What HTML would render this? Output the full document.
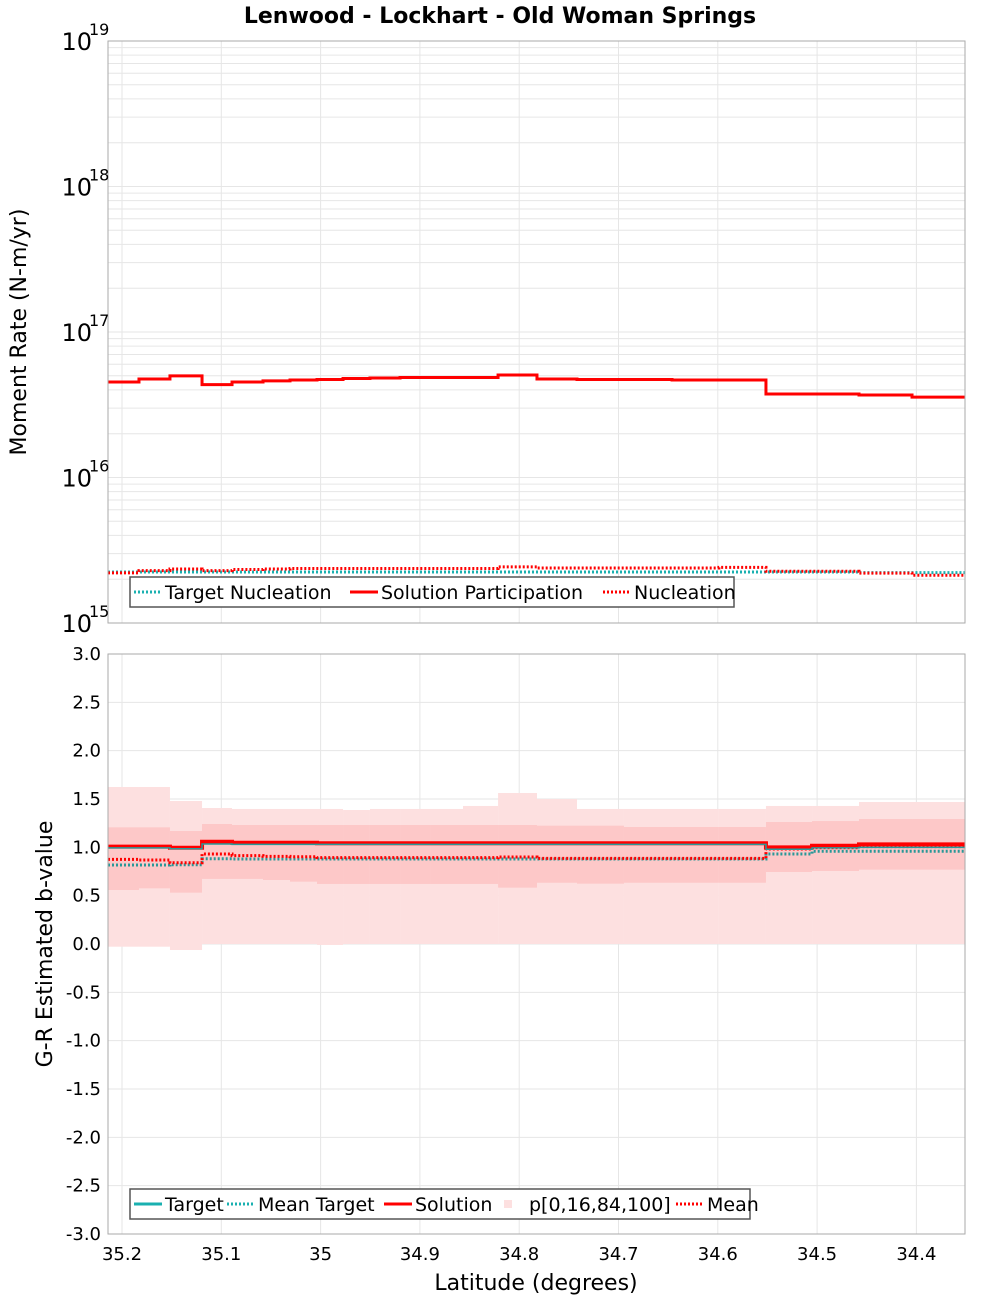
<!DOCTYPE html>
<html><head><meta charset="utf-8"><style>
body{margin:0;background:#fff;width:1000px;height:1300px;overflow:hidden}
svg{font-family:"DejaVu Sans","Liberation Sans",sans-serif}
</style></head><body>
<svg id="chart" width="1000" height="1300" xmlns="http://www.w3.org/2000/svg">
<text x="500" y="23" text-anchor="middle" font-weight="bold" font-size="22">Lenwood - Lockhart - Old Woman Springs</text>
<g id="topPanel"></g>
<g id="botPanel"></g>
</svg>
<script>
const edges=[35.2141,35.1829,35.1517,35.1194,35.0892,35.0580,35.0308,35.0036,34.9774,34.9503,34.9200,34.8898,34.8566,34.8213,34.7821,34.7418,34.6945,34.6461,34.5989,34.5515,34.5051,34.4578,34.4044,34.3511];
const solPart=[4.53e16,4.75e16,4.99e16,4.35e16,4.53e16,4.61e16,4.68e16,4.72e16,4.79e16,4.83e16,4.87e16,4.87e16,4.87e16,5.06e16,4.75e16,4.72e16,4.72e16,4.68e16,4.68e16,3.75e16,3.75e16,3.69e16,3.57e16];
const nucl=[2.21e15,2.29e15,2.35e15,2.29e15,2.33e15,2.35e15,2.37e15,2.37e15,2.37e15,2.37e15,2.37e15,2.37e15,2.37e15,2.43e15,2.39e15,2.39e15,2.39e15,2.39e15,2.41e15,2.27e15,2.27e15,2.20e15,2.13e15];
const tgtNucl=[2.24e15,2.24e15,2.24e15,2.24e15,2.24e15,2.24e15,2.24e15,2.24e15,2.24e15,2.24e15,2.24e15,2.24e15,2.24e15,2.24e15,2.24e15,2.24e15,2.24e15,2.24e15,2.24e15,2.24e15,2.24e15,2.22e15,2.22e15];
const bSol=[1.007,1.007,0.996,1.058,1.048,1.048,1.048,1.042,1.042,1.042,1.042,1.042,1.042,1.042,1.042,1.042,1.042,1.042,1.042,1.000,1.017,1.031,1.031];
const bTgt=[0.995,0.995,0.985,1.035,1.03,1.03,1.03,1.03,1.03,1.03,1.03,1.03,1.03,1.03,1.03,1.03,1.03,1.03,1.03,0.98,0.995,1.0,1.0];
const bMean=[0.876,0.869,0.841,0.931,0.914,0.907,0.903,0.893,0.893,0.893,0.893,0.893,0.893,0.900,0.886,0.886,0.886,0.886,0.886,0.983,0.996,1.007,1.007];
const bMeanTgt=[0.817,0.817,0.82,0.882,0.879,0.879,0.879,0.879,0.879,0.879,0.879,0.879,0.879,0.879,0.879,0.879,0.879,0.879,0.879,0.931,0.959,0.959,0.959];
const p84=[1.207,1.207,1.169,1.241,1.231,1.231,1.231,1.231,1.231,1.231,1.231,1.231,1.231,1.231,1.224,1.224,1.21,1.21,1.21,1.262,1.272,1.293,1.293];
const p16=[0.559,0.576,0.531,0.673,0.673,0.662,0.645,0.621,0.621,0.621,0.621,0.621,0.621,0.583,0.634,0.624,0.634,0.634,0.634,0.745,0.755,0.769,0.769];
const p100=[1.624,1.624,1.479,1.407,1.397,1.397,1.397,1.397,1.386,1.397,1.397,1.397,1.428,1.562,1.500,1.397,1.397,1.397,1.397,1.428,1.428,1.469,1.469];
const p0=[-0.028,-0.028,-0.062,0,0,0,0,-0.01,0,0,0,0,0,0,0,0,0,0,0,0,0,0,0];
const xTicks=[35.2,35.1,35.0,34.9,34.8,34.7,34.6,34.5,34.4];
const xTickLabels=["35.2","35.1","35","34.9","34.8","34.7","34.6","34.5","34.4"];
const bTicks=[3,2.5,2,1.5,1,0.5,0,-0.5,-1,-1.5,-2,-2.5,-3];
const logTicks=[15,16,17,18,19];

const NS="http://www.w3.org/2000/svg";
const L=108,R=965,T1=41,B1=623,T2=654,B2=1234;
const xS=v=>122+(35.2-v)*993;
const yLog=v=>B1-(Math.log10(v)-15)*(B1-T1)/4;
const yB=v=>T2+(3-v)*(B2-T2)/6;
function el(p,tag,a){const e=document.createElementNS(NS,tag);for(const k in a)e.setAttribute(k,a[k]);p.appendChild(e);return e;}
const topG=document.getElementById('topPanel'),botG=document.getElementById('botPanel');

for(const [g,T,B] of [[topG,T1,B1],[botG,T2,B2]]){
  const r=el(g,'rect',{x:L,y:T,width:R-L,height:B-T,fill:'#fff'});
  
  
  xTicks.forEach(t=>{const l=el(g,'line',{x1:xS(t),x2:xS(t),y1:T,y2:B,stroke:'#e6e6e6','stroke-width':1});
    
    });
}
for(let d=15;d<19;d++)for(let m=1;m<10;m++){const y=yLog(m*Math.pow(10,d));
  const l=el(topG,'line',{x1:L,x2:R,y1:y,y2:y,stroke:'#e6e6e6','stroke-width':1});
  
  }
bTicks.forEach(t=>{const l=el(botG,'line',{x1:L,x2:R,y1:yB(t),y2:yB(t),stroke:'#e6e6e6','stroke-width':1});
  
  });

function band(lo,hi,fill,name){for(let i=0;i<lo.length;i++){const x1=xS(edges[i]),x2=xS(edges[i+1]);
  const r=el(botG,'rect',{x:x1,y:yB(hi[i]),width:x2-x1,height:yB(lo[i])-yB(hi[i]),fill});
  
  }}
band(p0,p100,'#fde0e0','band-p0-p100');
band(p16,p84,'#fdc8c8','band-p16-p84');

function step(g,vals,ys,stroke,w,dash,name){let d='';for(let i=0;i<vals.length;i++){const x1=xS(edges[i]),x2=xS(edges[i+1]),y=ys(vals[i]);d+=(i?'L':'M')+x1+','+y+'L'+x2+','+y;}
  const p=el(g,'path',{d,fill:'none',stroke,'stroke-width':w});if(dash)p.setAttribute('stroke-dasharray',dash);
  
  }
step(topG,tgtNucl,yLog,'#1ab0b0',3,'2,2','target-nucleation-line');
step(topG,nucl,yLog,'#ff0000',3,'2,2','nucleation-line');
step(topG,solPart,yLog,'#ff0000',3,null,'solution-participation-line');
step(botG,bMeanTgt,yB,'#2a9898',3,'2,2','mean-target-line');
step(botG,bMean,yB,'#ff0000',3,'2,2','mean-line');
step(botG,bSol,yB,'#ff0000',4,null,'solution-line');
step(botG,bTgt,yB,'#2a9a9a',1.5,null,'target-line');

for(const [g,T,B] of [[topG,T1,B1],[botG,T2,B2]]){const r=el(g,'rect',{x:L,y:T,width:R-L,height:B-T,fill:'none',stroke:'#aaa','stroke-width':1});
  
  }

logTicks.forEach(t=>{const y=yLog(Math.pow(10,t));
  const tx=el(topG,'text',{x:92,y:y+9,'text-anchor':'end','font-size':24});tx.textContent='10';
  
  
  const s=el(topG,'text',{x:89,y:y-6,'font-size':16});s.textContent=String(t);
  
  });
bTicks.forEach(t=>{const tx=el(botG,'text',{x:101,y:yB(t)+6,'text-anchor':'end','font-size':18});tx.textContent=t.toFixed(1);
  
  });
xTicks.forEach((t,i)=>{const tx=el(botG,'text',{x:xS(t),y:1260,'text-anchor':'middle','font-size':18});tx.textContent=xTickLabels[i];
  
  });

const svgEl=document.getElementById('chart');
let a=el(svgEl,'text',{x:0,y:0,'text-anchor':'middle','font-size':22,transform:'translate(26,332) rotate(-90)'});a.textContent='Moment Rate (N-m/yr)';


a=el(svgEl,'text',{x:0,y:0,'text-anchor':'middle','font-size':22,transform:'translate(52,944) rotate(-90)'});a.textContent='G-R Estimated b-value';


a=el(svgEl,'text',{x:536,y:1290,'text-anchor':'middle','font-size':22});a.textContent='Latitude (degrees)';



function legend(x,y,w,items,name){const g=el(svgEl,'g',{});
  
  
  el(g,'rect',{x,y,width:w,height:30,fill:'#fff',stroke:'#555','stroke-width':1.5});
  let cx=x+4;
  items.forEach(it=>{const e=el(g,'g',{});
    
    
    if(it.box){el(e,'rect',{x:cx+6,y:y+11,width:8,height:8,fill:'#fde0e0'});}
    else{const l=el(e,'line',{x1:cx,x2:cx+28,y1:y+15,y2:y+15,stroke:it.c,'stroke-width':3});if(it.d)l.setAttribute('stroke-dasharray','2,2');}
    const t=el(e,'text',{x:cx+31,y:y+22,'font-size':19});t.textContent=it.t;cx+=31+it.w;});}
legend(130,577,604,[{c:'#1ab0b0',d:1,t:'Target Nucleation',w:185},{c:'#ff0000',t:'Solution Participation',w:222},{c:'#ff0000',d:1,t:'Nucleation',w:110}],'top-legend');
legend(130,1189,620,[{c:'#1ab0b0',t:'Target',w:62},{c:'#1ab0b0',d:1,t:'Mean Target',w:126},{c:'#ff0000',t:'Solution',w:83},{box:1,t:'p[0,16,84,100]',w:147},{c:'#ff0000',d:1,t:'Mean',w:55}],'bottom-legend');
</script>
</body></html>
